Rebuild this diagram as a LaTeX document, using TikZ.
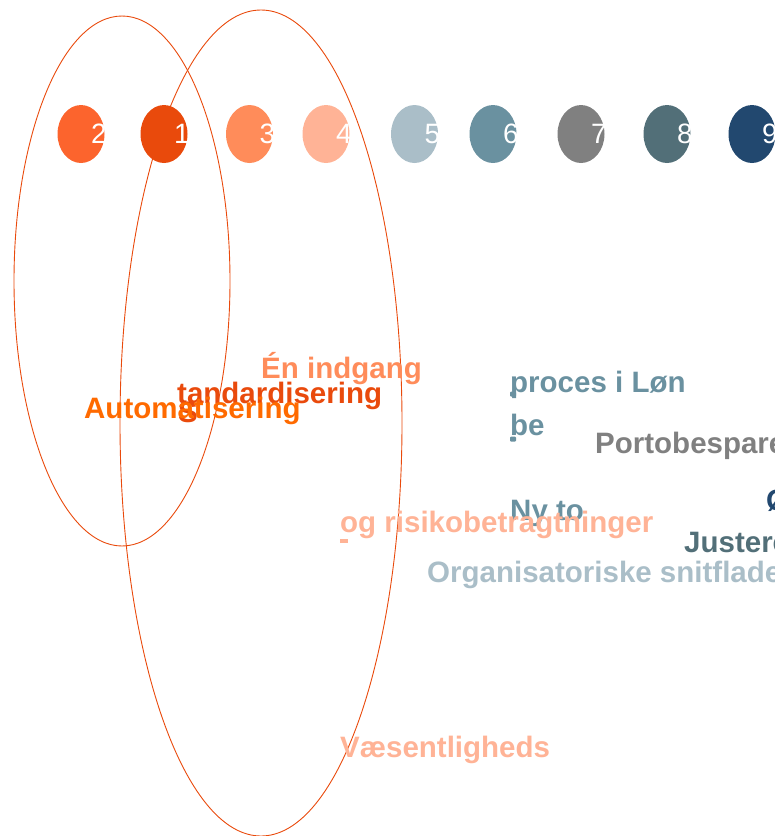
\documentclass[tikz,border=0pt]{standalone}
\usepackage{fontspec}
\setmainfont{Liberation Sans}
\usetikzlibrary{positioning}
\usetikzlibrary{shapes.geometric}
\definecolor{cOne}{HTML}{E94A0C}
\definecolor{cTwo}{HTML}{FC642D}
\definecolor{cThree}{HTML}{FF8C5A}
\definecolor{cFour}{HTML}{FFB396}
\definecolor{cFive}{HTML}{AABEC8}
\definecolor{cSix}{HTML}{6A91A0}
\definecolor{cSeven}{HTML}{808080}
\definecolor{cEight}{HTML}{526F78}
\definecolor{cNine}{HTML}{22486F}
\definecolor{cAuto}{HTML}{FF6A00}
\tikzset{dot/.style={ellipse,inner sep=0,minimum width=47pt,minimum height=58pt}}
\tikzset{num/.style={text=white,inner sep=0,xshift=18pt,font=\fontsize{28}{28}\selectfont}}
\tikzset{lbl/.style={anchor=base west,inner sep=0,font=\bfseries\fontsize{29.5}{29.5}\selectfont}}
\tikzset{ring/.style={draw=cOne,line width=0.9pt}}
\tikzset{mrk/.style={inner sep=0,rounded corners=1pt}}

\begin{document}
\begin{tikzpicture}[x=1pt,y=-1pt]
        \useasboundingbox (0,0) rectangle (775,836);
        \clip (0,0) rectangle (775,836);
        % legend dots
        \node[dot,fill=cTwo] (D2) at (81,134) {};
        \node[dot,fill=cOne] (D1) at (164,134) {};
        \node[dot,fill=cThree] (D3) at (249.5,134) {};
        \node[dot,fill=cFour] (D4) at (326,134) {};
        \node[dot,fill=cFive] (D5) at (414.5,134) {};
        \node[dot,fill=cSix] (D6) at (493,134) {};
        \node[dot,fill=cSeven] (D7) at (581,134) {};
        \node[dot,fill=cEight] (D8) at (667,134) {};
        \node[dot,fill=cNine] (D9) at (752,134) {};
        \node[num] (N2) at (D2) {2};
        \node[num] (N1) at (D1) {1};
        \node[num] (N3) at (D3) {3};
        \node[num] (N4) at (D4) {4};
        \node[num] (N5) at (D5) {5};
        \node[num] (N6) at (D6) {6};
        \node[num] (N7) at (D7) {7};
        \node[num] (N8) at (D8) {8};
        \node[num] (N9) at (D9) {9};
        % rings
        \draw[ring] (122,281) ellipse [x radius=108,y radius=265];
        \draw[ring] (261,423) ellipse [x radius=141,y radius=413];
        % labels
        \node[lbl,text=cThree] (L1) at (261,378) {Én indgang};
        \node[lbl,text=cOne] (L2) at (177,403) {tandardisering};
        \node[lbl,text=cOne] (L2s) at (178,422) {S};
        \node[lbl,text=cAuto] (L3) at (84,418) {Automatisering};
        \node[lbl,text=cSix] (L4) at (510,392) {proces i Løn};
        \node[lbl,text=cSix] (L5) at (510,435) {be};
        \node[lbl,text=cSeven] (L6) at (595,453) {Portobespare};
        \node[lbl,text=cNine] (L7) at (766,510) {Ø};
        \node[lbl,text=cSix] (L8) at (510,520) {Ny to};
        \node[lbl,text=cFour] (L9) at (340,532) {og risikobetragtninger};
        \node[lbl,text=cEight] (L10) at (684,552) {Justere};
        \node[lbl,text=cFive] (L11) at (427,582) {Organisatoriske snitflade};
        \node[lbl,text=cFour] (L12) at (340,757) {Væsentligheds};
        % small markers
        \node[mrk,fill=cSix,minimum width=6pt,minimum height=5pt] (M1) at (513,394) {};
        \node[mrk,fill=cSix,minimum width=6pt,minimum height=5pt] (M2) at (513,439) {};
        \node[inner sep=0,fill=cFour,minimum width=8pt,minimum height=4pt] (M3) at (344,541) {};
    \end{tikzpicture}
\end{document}
